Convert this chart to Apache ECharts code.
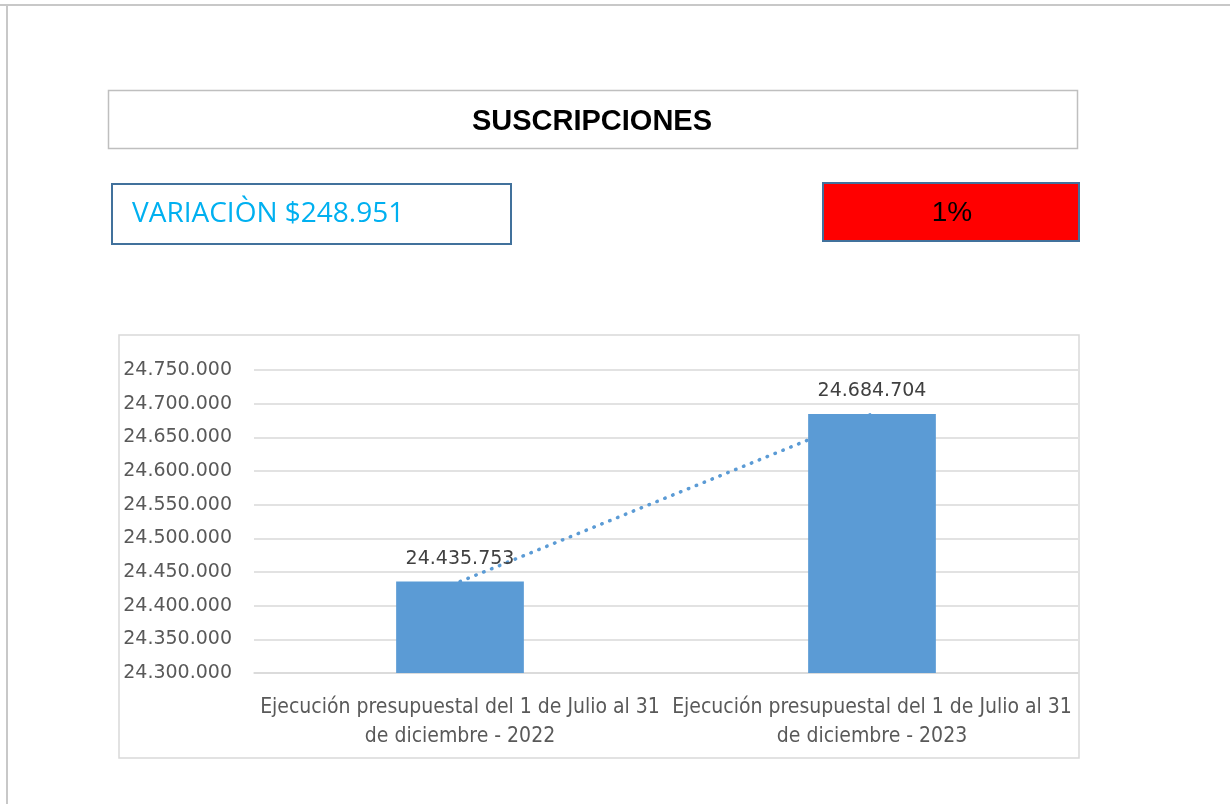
<!DOCTYPE html>
<html>
<head>
<meta charset="utf-8">
<script src="https://cdn.jsdelivr.net/npm/echarts@6/dist/echarts.min.js"></script>
<style>
  html, body { margin: 0; padding: 0; background: #fff; }
  #chart { width: 1230px; height: 804px; }
</style>
</head>
<body>
<div id="chart"></div>
<script>
  // data
  var categories = [
    'Ejecución presupuestal del 1 de Julio al 31\nde diciembre - 2022',
    'Ejecución presupuestal del 1 de Julio al 31\nde diciembre - 2023'
  ];
  var values = [24435753, 24684704];
  var titleText = 'SUSCRIPCIONES';
  var variationText = 'VARIACIÒN $248.951';
  var percentText = '1%';
  var yMin = 24300000, yMax = 24750000, yStep = 50000;

  function fmt(v) {
    return String(Math.round(v)).replace(/\B(?=(\d{3})+(?!\d))/g, '.');
  }

  var barColor = '#5B9BD5';
  var chart = echarts.init(document.getElementById('chart'));

  chart.setOption({
    backgroundColor: '#ffffff',
    animation: false,
    graphic: [
      // outer frame lines
      { type: 'line', shape: { x1: 0, y1: 5, x2: 1230, y2: 5 }, style: { stroke: '#c8c8c8', lineWidth: 2 } },
      { type: 'line', shape: { x1: 7, y1: 5, x2: 7, y2: 804 }, style: { stroke: '#c8c8c8', lineWidth: 2 } },
      // title box
      { type: 'rect', shape: { x: 108.5, y: 90.5, width: 969, height: 58 }, style: { fill: '#fff', stroke: '#bfbfbf', lineWidth: 1.5 } },
      { type: 'text', x: 592, y: 122, style: { text: titleText, fill: '#000', font: 'bold 29px "Liberation Sans", sans-serif', align: 'center', verticalAlign: 'middle' } },
      // variation box
      { type: 'rect', shape: { x: 112, y: 184, width: 399, height: 60 }, style: { fill: '#fff', stroke: '#41719C', lineWidth: 2 } },
      { type: 'text', x: 132, y: 214, style: { text: variationText, fill: '#00B0F0', font: '28px "Open Sans", sans-serif', align: 'left', verticalAlign: 'middle' } },
      // percent box
      { type: 'rect', shape: { x: 823, y: 183, width: 256, height: 58 }, style: { fill: '#FF0000', stroke: '#41719C', lineWidth: 2 } },
      { type: 'text', x: 952, y: 213, style: { text: percentText, fill: '#000', font: '28px "Liberation Sans", sans-serif', align: 'center', verticalAlign: 'middle' } },
      // chart area border
      { type: 'rect', shape: { x: 119, y: 335, width: 960, height: 423 }, style: { fill: 'none', stroke: '#d9d9d9', lineWidth: 1.5 }, z: 0 }
    ],
    grid: { left: 254, right: 152, top: 370, bottom: 131 },
    xAxis: {
      type: 'category',
      data: categories,
      axisLine: { show: true, lineStyle: { color: '#d9d9d9', width: 1.5 } },
      axisTick: { show: false },
      axisLabel: {
        interval: 0,
        margin: 20,
        color: '#595959',
        fontSize: 21,
        lineHeight: 29,
        fontFamily: '"Liberation Sans Narrow", "DejaVu Sans Condensed", sans-serif'
      }
    },
    yAxis: {
      type: 'value',
      min: yMin,
      max: yMax,
      interval: yStep,
      axisLine: { show: false },
      axisTick: { show: false },
      splitLine: { lineStyle: { color: '#d9d9d9', width: 1.5 } },
      axisLabel: {
        margin: 22,
        color: '#595959',
        fontSize: 19,
        fontFamily: '"DejaVu Sans", sans-serif',
        formatter: fmt
      }
    },
    series: [
      {
        // linear trendline
        type: 'line',
        data: values,
        symbol: 'none',
        z: 1,
        lineStyle: { color: barColor, width: 3.5, type: [0.5, 8], cap: 'round' },
        silent: true
      },
      {
        type: 'bar',
        data: values,
        barWidth: '31%',
        z: 3,
        itemStyle: { color: barColor },
        label: {
          show: true,
          position: 'top',
          distance: 13,
          color: '#404040',
          fontSize: 19,
          fontFamily: '"DejaVu Sans", sans-serif',
          formatter: function (p) { return fmt(p.value); }
        }
      }
    ]
  });
</script>
</body>
</html>
